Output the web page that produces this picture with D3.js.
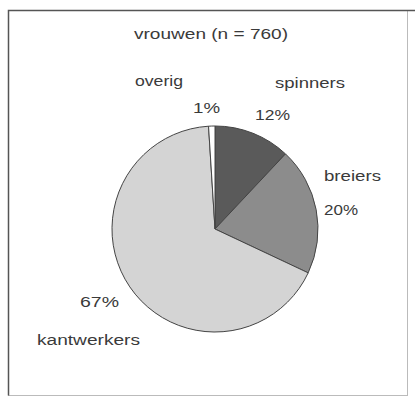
<!DOCTYPE html>
<html>
<head>
    <meta charset="utf-8">
    <title>vrouwen</title>
    <script src="https://d3js.org/d3.v7.min.js"></script>
    <style>
        body { margin: 0; background: #fff; }
        text { font-family: "Liberation Sans", Arial, sans-serif; fill: #3a3a3a; }
    </style>
</head>
<body>
<svg width="415" height="400"></svg>
<script>
    const width = 415;
    const height = 400;

    // data, clockwise from 12 o'clock
    const categories = ["spinners", "breiers", "kantwerkers", "overig"];
    const values = [12, 20, 67, 1];
    const percentLabels = ["12%", "20%", "67%", "1%"];
    const title = "vrouwen (n = 760)";

    const colors = d3.scaleOrdinal()
        .domain(categories)
        .range(["#5a5a5a", "#8c8c8c", "#d4d4d4", "#ffffff"]);

    const svg = d3.select("svg");

    // frame
    svg.append("rect")
        .attr("x", 8.5).attr("y", 10.5)
        .attr("width", 399).attr("height", 385)
        .attr("fill", "#fff")
        .attr("stroke", "#bbb");
    svg.append("path")
        .attr("d", "M8.5,395.5 V10.5 H415")
        .attr("fill", "none")
        .attr("stroke", "#555")
        .attr("stroke-width", 1.5);

    svg.append("text")
        .attr("x", 134).attr("y", 39)
        .attr("font-size", 14)
        .attr("textLength", 154)
        .attr("lengthAdjust", "spacingAndGlyphs")
        .text(title);

    const cx = 215, cy = 229, r = 103;

    const pie = d3.pie().sort(null).value(d => d.value);
    const arcs = pie(categories.map((c, i) => ({ name: c, value: values[i], label: percentLabels[i] })));
    const arc = d3.arc().innerRadius(0).outerRadius(r);

    const g = svg.append("g").attr("transform", `translate(${cx},${cy})`);
    g.selectAll("path")
        .data(arcs)
        .join("path")
        .attr("d", arc)
        .attr("fill", d => colors(d.data.name))
        .attr("stroke", "#444")
        .attr("stroke-width", 1);

    // label placements relative to pie centre: x, baseline y, text width
    const namePos = {
        spinners: [60, -141, 70],
        breiers: [109, -48, 57],
        kantwerkers: [-178, 116, 103],
        overig: [-80, -143, 48]
    };
    const pctPos = {
        spinners: [40, -109, 35],
        breiers: [109, -14, 34],
        kantwerkers: [-135, 78, 39],
        overig: [-22, -116, 27]
    };

    const labels = svg.append("g").attr("transform", `translate(${cx},${cy})`)
        .attr("font-size", 14);

    labels.selectAll("text.name")
        .data(arcs)
        .join("text")
        .attr("class", "name")
        .attr("x", d => namePos[d.data.name][0])
        .attr("y", d => namePos[d.data.name][1])
        .attr("textLength", d => namePos[d.data.name][2])
        .attr("lengthAdjust", "spacingAndGlyphs")
        .text(d => d.data.name);

    labels.selectAll("text.pct")
        .data(arcs)
        .join("text")
        .attr("class", "pct")
        .attr("x", d => pctPos[d.data.name][0])
        .attr("y", d => pctPos[d.data.name][1])
        .attr("textLength", d => pctPos[d.data.name][2])
        .attr("lengthAdjust", "spacingAndGlyphs")
        .text(d => d.data.label);
</script>
</body>
</html>
